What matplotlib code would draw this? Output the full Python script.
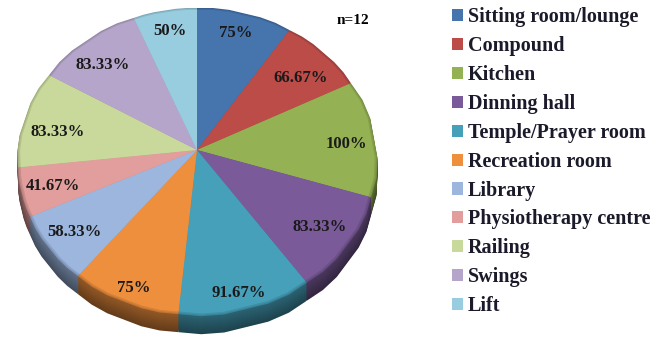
import numpy as np
import matplotlib
matplotlib.use("Agg")
import matplotlib.pyplot as plt
from matplotlib.colors import to_rgb
from matplotlib.patches import Patch, Polygon

# 施設ごとのデータ
rooms = ["Sitting room/lounge", "Compound", "Kitchen", "Dinning hall",
         "Temple/Prayer room", "Recreation room", "Library",
         "Physiotherapy centre", "Railing", "Swings", "Lift"]
percent = [75, 66.67, 100, 83.33, 91.67, 75, 58.33, 41.67, 83.33, 83.33, 50]
percent_labels = ["75%", "66.67%", "100%", "83.33%", "91.67%", "75%",
                  "58.33%", "41.67%", "83.33%", "83.33%", "50%"]
colors = ["#4674ad", "#bb4c48", "#94b153", "#7a5a98", "#46a0ba", "#ee8f3e",
          "#9cb6de", "#e29e9c", "#c9d99b", "#b6a5ca", "#98cde0"]

plt.rcParams["font.family"] = ["Liberation Serif", "DejaVu Serif"]
plt.rcParams["font.weight"] = "bold"

# 上面の楕円(ピクセル座標)と奥行き
CX, CY = 197, 161.5
RX, RY = 179, 153.5
TILT = 0.075
DEPTH = 18


def tilt(xy):
    # 単位円を射影変換で楕円へ写す(円の中心は楕円の中心より上に来る)
    xy = np.atleast_2d(xy)
    w = 1 + TILT * xy[:, 1]
    p = xy[:, 0] * np.sqrt(1 - TILT ** 2) / w
    q = (xy[:, 1] + TILT) / w
    return np.column_stack([CX + RX * p, CY - RY * q])


def shade(color, k):
    return tuple(c * k for c in to_rgb(color))


fig = plt.figure(figsize=(6.53, 3.39), dpi=100)
ax = fig.add_axes([0, 0, 1, 1])
wedges, texts = ax.pie(percent, labels=percent_labels, startangle=90,
                       counterclock=False, labeldistance=0.83)
outlines = [w.get_path().interpolated(8).vertices for w in wedges]
label_pos = [t.get_position() for t in texts]
for artist in wedges + texts:
    artist.remove()

ax.set_aspect("auto")
ax.set_xlim(0, 653)
ax.set_ylim(339, 0)
ax.axis("off")

# 側面: 上面を少しずつ下にずらして重ねる
for dy in range(DEPTH, 0, -1):
    k = 0.62 - 0.2 * dy / DEPTH
    for outline, color in zip(outlines, colors):
        ax.add_patch(Polygon(tilt(outline) + [0, dy], closed=True,
                             fc=shade(color, k), ec="none"))

# 上面: 縁だけ少し暗くする
for scale, k in [(1.0, 0.82), (0.993, 0.9), (0.985, 1.0)]:
    for outline, color in zip(outlines, colors):
        ax.add_patch(Polygon(tilt(outline * scale), closed=True,
                             fc=shade(color, k), ec="none"))

# ラベルの微調整(ピクセル)
nudge = [(-1, -2), (-3, 9), (2, 4), (-2, -1), (1, 13), (-4, 14),
         (-1, 1), (1, 1), (4, 8), (-2, 7), (0, -2)]
for pos, label, (dx, dy) in zip(label_pos, percent_labels, nudge):
    x, y = tilt(pos)[0]
    ax.text(x + dx, y + dy, label, fontsize=12, ha="center", va="center",
            color="#1a1a1a")

ax.text(353, 20, "n=12", fontsize=11, ha="center", va="center", color="black")

handles = [Patch(fc=c, ec="none") for c in colors]
fig.legend(handles, rooms, loc="upper left", bbox_to_anchor=(0.686, 0.99),
           frameon=False, fontsize=14.5, labelcolor="#1a1a2a",
           handlelength=0.55, handleheight=0.55, handletextpad=0.25,
           labelspacing=0.44, borderpad=0.2, borderaxespad=0.0)

fig.savefig("out.png", dpi=100, facecolor="white")
